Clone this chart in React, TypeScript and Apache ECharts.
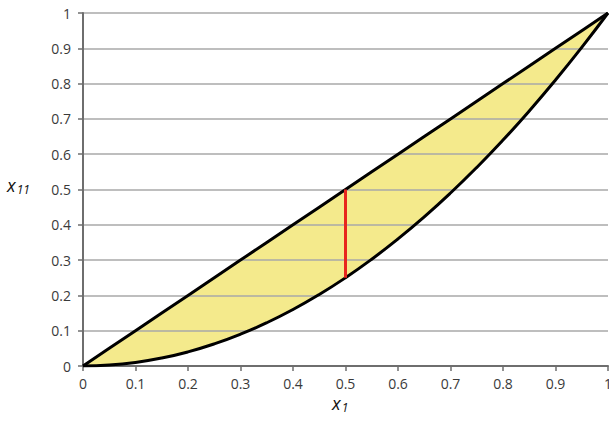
import React, { useEffect, useRef } from "react";
import * as echarts from "echarts";

const xValues = [0, 0.05, 0.1, 0.15, 0.2, 0.25, 0.3, 0.35, 0.4, 0.45, 0.5, 0.55, 0.6, 0.65, 0.7, 0.75, 0.8, 0.85, 0.9, 0.95, 1];
const upperValues = [0, 0.05, 0.1, 0.15, 0.2, 0.25, 0.3, 0.35, 0.4, 0.45, 0.5, 0.55, 0.6, 0.65, 0.7, 0.75, 0.8, 0.85, 0.9, 0.95, 1];
const lowerValues = [0, 0.0025, 0.01, 0.0225, 0.04, 0.0625, 0.09, 0.1225, 0.16, 0.2025, 0.25, 0.3025, 0.36, 0.4225, 0.49, 0.5625, 0.64, 0.7225, 0.81, 0.9025, 1];
const redSegment = [[0.5, 0.25], [0.5, 0.5]];

export default function App() {
  const ref = useRef<HTMLDivElement>(null);
  useEffect(() => {
    const chart = echarts.init(ref.current!, null, { renderer: "svg" });
    const font = "'Open Sans', sans-serif";
    const labelColor = "#3a3a3a";
    chart.setOption({
      animation: false,
      backgroundColor: "#fff",
      grid: { left: 83, right: 1, top: 13, bottom: 56, outerBoundsMode: "none", containLabel: false },
      xAxis: {
        type: "value",
        min: 0,
        max: 1,
        interval: 0.1,
        z: 3,
        axisLine: { show: true, lineStyle: { color: "#6e6e6e", width: 2 } },
        axisTick: { show: true, length: 5, lineStyle: { color: "#6e6e6e", width: 1.5 } },
        splitLine: { show: false },
        axisLabel: { color: labelColor, fontSize: 14, fontFamily: font, margin: 10 },
      },
      yAxis: {
        type: "value",
        min: 0,
        max: 1,
        interval: 0.1,
        z: 3,
        axisLine: { show: true, lineStyle: { color: "#6e6e6e", width: 2 } },
        axisTick: { show: true, length: 5, lineStyle: { color: "#6e6e6e", width: 1.5 } },
        splitLine: { show: true, lineStyle: { color: "#a9a9a9", width: 1.5 } },
        axisLabel: { color: labelColor, fontSize: 14, fontFamily: font, margin: 12 },
      },
      series: [
        {
          type: "line",
          data: xValues.map((x, i) => [x, upperValues[i]]),
          symbol: "none",
          lineStyle: { width: 0, opacity: 0 },
          areaStyle: { color: "#f4ea8c", opacity: 1 },
          z: 1,
        },
        {
          type: "line",
          data: xValues.map((x, i) => [x, lowerValues[i]]),
          smooth: true,
          symbol: "none",
          lineStyle: { width: 0, opacity: 0 },
          areaStyle: { color: "#ffffff", opacity: 1 },
          z: 1,
        },
        {
          type: "line",
          data: xValues.map((x, i) => [x, upperValues[i]]),
          symbol: "none",
          lineStyle: { color: "#000", width: 3 },
          z: 10,
        },
        {
          type: "line",
          data: xValues.map((x, i) => [x, lowerValues[i]]),
          smooth: true,
          symbol: "none",
          lineStyle: { color: "#000", width: 3 },
          z: 10,
        },
        {
          type: "line",
          data: redSegment,
          symbol: "none",
          lineStyle: { color: "#e8261e", width: 3 },
          z: 11,
        },
      ],
      graphic: [
        {
          type: "text",
          left: 7,
          top: 176,
          style: {
            text: "{a|x}{b|11}",
            rich: {
              a: { fontSize: 18, fontStyle: "italic", fontFamily: font, fill: "#111" },
              b: { fontSize: 12, fontStyle: "italic", fontFamily: font, fill: "#111", padding: [9, 0, 0, 1] },
            },
          },
        },
        {
          type: "text",
          left: 332,
          top: 394,
          style: {
            text: "{a|x}{b|1}",
            rich: {
              a: { fontSize: 18, fontStyle: "italic", fontFamily: font, fill: "#111" },
              b: { fontSize: 12, fontStyle: "italic", fontFamily: font, fill: "#111", padding: [9, 0, 0, 1] },
            },
          },
        },
      ],
    });
    return () => chart.dispose();
  }, []);
  return <div ref={ref} style={{ width: 609, height: 422, position: "absolute", left: 0, top: 0 }} />;
}
